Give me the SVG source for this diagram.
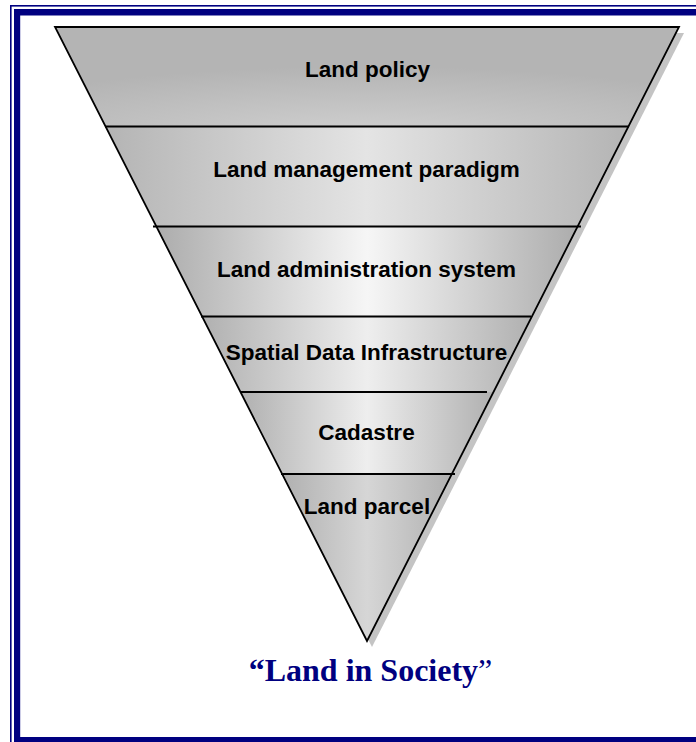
<svg xmlns="http://www.w3.org/2000/svg" width="696" height="742" viewBox="0 0 696 742">
<defs>
<style>
.lbl{font-family:"Liberation Sans",Arial,sans-serif;font-weight:bold;font-size:22.5px;fill:#000;text-anchor:middle}
.sep{stroke:#000;stroke-width:1.8;fill:none}
.frame{fill:#000080}
</style>
<radialGradient id="g1" cx="0.5" cy="1.1" r="0.7">
<stop offset="0" stop-color="#d0d0d0"/><stop offset="1" stop-color="#b4b4b4"/>
</radialGradient>
<linearGradient id="g2" x1="0" y1="0" x2="1" y2="0">
<stop offset="0" stop-color="#b4b4b4"/><stop offset="0.5" stop-color="#e4e4e4"/><stop offset="1" stop-color="#b4b4b4"/>
</linearGradient>
<linearGradient id="g3" x1="0" y1="0" x2="1" y2="0">
<stop offset="0" stop-color="#acacac"/><stop offset="0.5" stop-color="#f6f6f6"/><stop offset="1" stop-color="#acacac"/>
</linearGradient>
<linearGradient id="g4" x1="0" y1="0" x2="1" y2="0">
<stop offset="0" stop-color="#b0b0b0"/><stop offset="0.5" stop-color="#eeeeee"/><stop offset="1" stop-color="#b0b0b0"/>
</linearGradient>
<linearGradient id="g6" x1="0" y1="0" x2="1" y2="0">
<stop offset="0" stop-color="#b0b0b0"/><stop offset="0.5" stop-color="#d6d6d6"/><stop offset="1" stop-color="#b0b0b0"/>
</linearGradient>
</defs>
<rect width="696" height="742" fill="#fff"/>
<g id="frame">
<rect class="frame" x="10" y="5" width="686" height="1.6"/>
<rect class="frame" x="10" y="5" width="1.6" height="737"/>
<rect class="frame" x="14" y="9" width="682" height="6.5"/>
<rect class="frame" x="14" y="9" width="6.2" height="733"/>
<rect class="frame" x="14" y="737" width="682" height="5"/>
</g>
<polygon id="shadow" points="60,33 684,33 372,647" fill="#c4c4c4"/>
<g id="band-land-policy">
<polygon points="55,27 679,27 628.7,126 105.3,126" fill="url(#g1)"/>
<text class="lbl" x="367.5" y="77">Land policy</text>
</g>
<g id="band-land-management-paradigm">
<polygon points="105.3,126 628.7,126 577.9,226 156.1,226" fill="url(#g2)"/>
<text class="lbl" x="366.5" y="177">Land management paradigm</text>
</g>
<g id="band-land-administration-system">
<polygon points="156.1,226 577.9,226 532.2,316 201.8,316" fill="url(#g3)"/>
<text class="lbl" x="366.5" y="277">Land administration system</text>
</g>
<g id="band-spatial-data-infrastructure">
<polygon points="201.8,316 532.2,316 493.5,392 240.5,392" fill="url(#g4)"/>
<text class="lbl" x="366.5" y="360">Spatial Data Infrastructure</text>
</g>
<g id="band-cadastre">
<polygon points="240.5,392 493.5,392 451.9,474 282.1,474" fill="url(#g4)"/>
<text class="lbl" x="366.5" y="440">Cadastre</text>
</g>
<g id="band-land-parcel">
<polygon points="282.1,474 451.9,474 367,641" fill="url(#g6)"/>
<text class="lbl" x="367" y="514">Land parcel</text>
</g>
<g id="connectors">
<polygon class="sep" points="55,27 679,27 367,641"/>
<line class="sep" x1="105" y1="126.5" x2="629" y2="126.5"/>
<line class="sep" x1="153" y1="226.5" x2="581" y2="226.5"/>
<line class="sep" x1="201" y1="316.5" x2="531" y2="316.5"/>
<line class="sep" x1="240" y1="392" x2="487" y2="392"/>
<line class="sep" x1="281" y1="474" x2="455" y2="474"/>
</g>
<text id="caption" x="370.5" y="681" font-family="'Liberation Serif','Times New Roman',serif" font-size="32" fill="#000080" text-anchor="middle"><tspan font-weight="bold">“Land in Society</tspan><tspan>”</tspan></text>
</svg>
